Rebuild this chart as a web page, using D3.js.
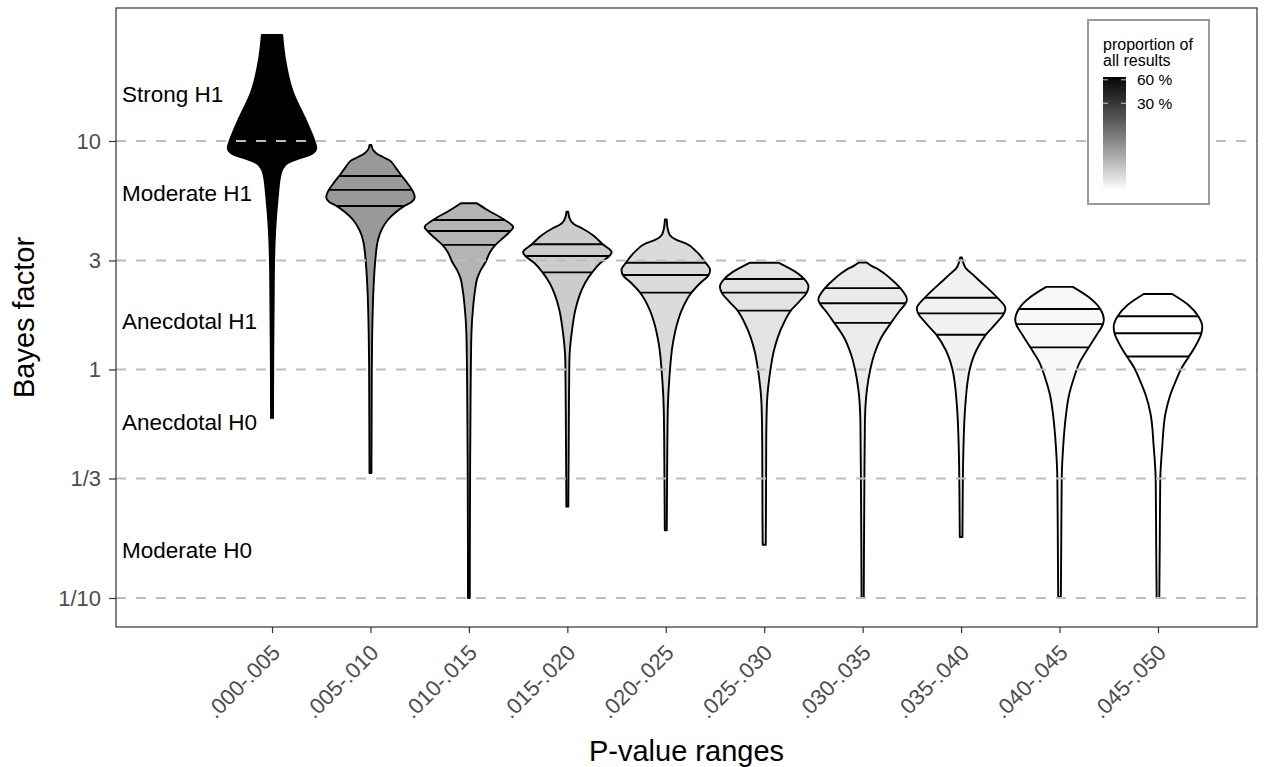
<!DOCTYPE html>
<html><head><meta charset="utf-8">
<script src="https://cdn.jsdelivr.net/npm/d3@7"></script>
<style>
body{margin:0;background:#fff}
svg{display:block}
text{font-family:"Liberation Sans",Arial,Helvetica,sans-serif}
</style>
</head><body>
<svg id="chart" width="1265" height="767"></svg>
<script>
// ---------------- data ----------------
const categories = [".000-.005", ".005-.010", ".010-.015", ".015-.020", ".020-.025",
                    ".025-.030", ".030-.035", ".035-.040", ".040-.045", ".045-.050"];
// proportion of all results (%) per p-value range
const proportions = [65.2, 7.9, 5.6, 4.2, 3.5, 3.2, 2.9, 2.7, 2.5, 2.3];
// 25/50/75 % quantiles of the Bayes factor per range
const quantiles = [
  [9.0, 11.5, 16.0],
  [5.19, 6.11, 7.03],
  [3.51, 4.04, 4.51],
  [2.66, 3.14, 3.53],
  [2.17, 2.59, 2.93],
  [1.81, 2.17, 2.49],
  [1.60, 1.95, 2.27],
  [1.42, 1.76, 2.06],
  [1.25, 1.58, 1.84],
  [1.14, 1.44, 1.71]
];
// violin density profiles: [Bayes factor, relative density (0..1)] from top to bottom
const densityProfiles = [
  [[29.1,.23],[23.07,.29],[16.39,.47],[12.61,.74],[11.17,.86],[10.10,.95],[9.32,1.0],[8.86,.93],[8.60,.80],[8.38,.60],[8.01,.36],[7.62,.25],[7.10,.19],[5.69,.13],[4.08,.072],[2.93,.046],[1.86,.036],[1.12,.027],[0.613,.022]],
  [[9.61,.02],[9.13,.06],[8.84,.13],[8.51,.28],[8.26,.42],[7.69,.56],[7.10,.69],[6.55,.83],[6.11,.94],[5.69,1.0],[5.41,.93],[5.19,.76],[4.84,.55],[4.51,.39],[4.08,.25],[3.69,.17],[3.01,.11],[2.23,.067],[1.77,.05],[0.965,.03],[0.352,.022]],
  [[5.34,.18],[4.99,.42],[4.51,.81],[4.19,1.0],[4.04,.94],[3.76,.77],[3.51,.60],[3.27,.48],[2.96,.38],[2.73,.27],[2.51,.19],[2.23,.14],[1.92,.10],[1.42,.056],[0.773,.038],[0.268,.025],[0.1,.02]],
  [[4.90,.02],[4.60,.05],[4.44,.09],[4.29,.18],[4.15,.33],[3.84,.60],[3.53,.80],[3.26,1.0],[3.14,.95],[2.93,.75],[2.66,.56],[2.39,.40],[2.12,.28],[1.82,.18],[1.51,.11],[1.08,.045],[0.555,.033],[0.251,.022]],
  [[4.54,.02],[4.16,.04],[3.88,.09],[3.69,.24],[3.57,.44],[3.27,.70],[2.93,.90],[2.73,1.0],[2.59,.97],[2.39,.78],[2.17,.58],[1.82,.36],[1.57,.25],[1.30,.16],[0.930,.083],[0.665,.045],[0.340,.03],[0.198,.022]],
  [[2.93,.33],[2.68,.70],[2.49,.90],[2.30,1.0],[2.17,.96],[1.99,.80],[1.81,.60],[1.61,.45],[1.39,.31],[1.19,.21],[0.995,.14],[0.711,.062],[0.477,.045],[0.243,.04],[0.171,.035]],
  [[2.94,.09],[2.84,.20],[2.73,.37],[2.51,.62],[2.27,.85],[2.02,1.0],[1.95,.97],[1.79,.82],[1.60,.64],[1.39,.43],[1.16,.26],[0.995,.17],[0.827,.10],[0.591,.051],[0.303,.038],[0.1,.025]],
  [[3.09,.02],[2.93,.05],[2.77,.11],[2.62,.25],[2.42,.44],[2.23,.64],[2.06,.82],[1.85,1.0],[1.76,.97],[1.60,.80],[1.42,.56],[1.22,.35],[1.01,.20],[0.699,.096],[0.422,.049],[0.302,.038],[0.185,.03]],
  [[2.30,.30],[2.08,.65],[1.84,.92],[1.65,1.0],[1.58,.98],[1.42,.84],[1.25,.66],[1.08,.46],[0.899,.31],[0.766,.21],[0.643,.15],[0.459,.082],[0.328,.049],[0.168,.038],[0.101,.03]],
  [[2.14,.32],[1.92,.68],[1.71,.91],[1.54,1.0],[1.44,.98],[1.28,.86],[1.14,.70],[1.02,.54],[0.899,.41],[0.766,.27],[0.643,.17],[0.459,.096],[0.328,.051],[0.168,.04],[0.1,.03]]
];
const yTickValues = [0.1, 1/3, 1, 3, 10];
const yTickLabels = ["1/10", "1/3", "1", "3", "10"];
const evidenceLabels = ["Strong H1", "Moderate H1", "Anecdotal H1", "Anecdotal H0", "Moderate H0"];
const evidenceLevels = [16, 5.9, 1.63, 0.59, 0.162];
const legendBreaks = [60, 30];
const legendBreakLabels = ["60 %", "30 %"];

// ---------------- layout ----------------
const svg = d3.select("#chart");
const panel = {left: 116, right: 1257, top: 8, bottom: 627};

const x = d3.scaleLinear().domain([-1.585, 10.006]).range([panel.left, panel.right]);
const y = d3.scaleLog().domain([Math.pow(10, -1.127), Math.pow(10, 1.582)]).range([panel.bottom, panel.top]);
const fill = d3.scaleSequentialLog(d3.interpolateLab("#ffffff", "#000000"))
  .domain([d3.min(proportions), d3.max(proportions)]);
const halfW = 0.45 * (x(1) - x(0));

svg.append("rect").attr("x", 0).attr("y", 0).attr("width", 1265).attr("height", 767).attr("fill", "#fff");

function relAt(profile, v) {
  const lv = Math.log10(v);
  for (let i = 0; i < profile.length - 1; i++) {
    const a = Math.log10(profile[i][0]), b = Math.log10(profile[i + 1][0]);
    if (lv <= a && lv >= b) {
      const t = (a - lv) / (a - b);
      return profile[i][1] + t * (profile[i + 1][1] - profile[i][1]);
    }
  }
  return 0;
}

const gV = svg.append("g");
categories.forEach((c, i) => {
  const cx = x(i);
  const prof = densityProfiles[i];
  const area = d3.area()
    .y(d => y(d[0]))
    .x0(d => cx - halfW * d[1])
    .x1(d => cx + halfW * d[1])
    .curve(d3.curveMonotoneY);
  gV.append("path").attr("d", area(prof))
    .attr("fill", fill(proportions[i]))
    .attr("stroke", "#000").attr("stroke-width", 1.9).attr("stroke-linejoin", "round");
  quantiles[i].forEach(q => {
    const r = relAt(prof, q);
    gV.append("line")
      .attr("x1", cx - halfW * r).attr("x2", cx + halfW * r)
      .attr("y1", y(q)).attr("y2", y(q))
      .attr("stroke", "#000").attr("stroke-width", 1.9);
  });
});

// dashed reference lines (drawn above the violins)
svg.append("g").selectAll("line").data(yTickValues).join("line")
  .attr("x1", panel.left).attr("x2", panel.right)
  .attr("y1", d => y(d)).attr("y2", d => y(d))
  .attr("stroke", "#bdbdbd").attr("stroke-width", 2).attr("stroke-dasharray", "10,10");

// evidence annotations
svg.append("g").selectAll("text").data(evidenceLabels).join("text")
  .attr("x", 122).attr("y", (d, i) => y(evidenceLevels[i]))
  .attr("dy", "0.36em")
  .attr("font-size", 22.5).attr("fill", "#000")
  .text(d => d);

// panel border
svg.append("rect").attr("x", panel.left).attr("y", panel.top)
  .attr("width", panel.right - panel.left).attr("height", panel.bottom - panel.top)
  .attr("fill", "none").attr("stroke", "#333").attr("stroke-width", 1.2);

// axes
const xAxis = svg.append("g").attr("transform", `translate(0,${panel.bottom})`)
  .call(d3.axisBottom(x).tickValues(d3.range(categories.length)).tickFormat(i => categories[i]).tickSize(6));
xAxis.select(".domain").remove();
xAxis.selectAll(".tick line").attr("stroke", "#333").attr("stroke-width", 1.2);
xAxis.selectAll(".tick text")
  .attr("x", 0).attr("y", 0).attr("dy", 0)
  .attr("text-anchor", "end")
  .attr("transform", "translate(9,27) rotate(-45)")
  .attr("font-size", 22).attr("fill", "#4d4d4d")
  .attr("font-family", "Liberation Sans, Arial, sans-serif");

const yAxis = svg.append("g").attr("transform", `translate(${panel.left},0)`)
  .call(d3.axisLeft(y).tickValues(yTickValues).tickFormat((d, i) => yTickLabels[i]).tickSize(7).tickPadding(8));
yAxis.select(".domain").remove();
yAxis.selectAll(".tick line").attr("stroke", "#333").attr("stroke-width", 1.2);
yAxis.selectAll(".tick text").attr("font-size", 22).attr("fill", "#4d4d4d")
  .attr("font-family", "Liberation Sans, Arial, sans-serif");

// axis titles
svg.append("text").attr("x", (panel.left + panel.right) / 2).attr("y", 761)
  .attr("text-anchor", "middle").attr("font-size", 29).attr("fill", "#000").text("P-value ranges");
svg.append("text").attr("transform", `translate(34,${(panel.top + panel.bottom) / 2}) rotate(-90)`)
  .attr("text-anchor", "middle").attr("font-size", 29).attr("fill", "#000").text("Bayes factor");

// legend
const lg = svg.append("g");
lg.append("rect").attr("x", 1088).attr("y", 20).attr("width", 121).attr("height", 184)
  .attr("fill", "#fff").attr("stroke", "#9a9a9a").attr("stroke-width", 2);
lg.append("text").attr("x", 1103).attr("y", 50).attr("font-size", 16).text("proportion of");
lg.append("text").attr("x", 1103).attr("y", 66).attr("font-size", 16).text("all results");
const ly = d3.scaleLog().domain(fill.domain()).range([190, 77]);
const grad = svg.append("defs").append("linearGradient").attr("id", "lgrad")
  .attr("x1", 0).attr("x2", 0).attr("y1", 1).attr("y2", 0);
d3.range(0, 1.0001, 0.05).forEach(t => {
  const v = ly.invert(190 - t * 113);
  grad.append("stop").attr("offset", t).attr("stop-color", fill(v));
});
lg.append("rect").attr("x", 1103).attr("y", 77).attr("width", 23).attr("height", 113).attr("fill", "url(#lgrad)");
legendBreaks.forEach((b, i) => {
  lg.append("line").attr("x1", 1103).attr("x2", 1108).attr("y1", ly(b)).attr("y2", ly(b)).attr("stroke", "#ccc").attr("stroke-width", 1);
  lg.append("line").attr("x1", 1121).attr("x2", 1126).attr("y1", ly(b)).attr("y2", ly(b)).attr("stroke", "#ccc").attr("stroke-width", 1);
  lg.append("text").attr("x", 1137).attr("y", ly(b)).attr("dy", "0.36em").attr("font-size", 15.5).text(legendBreakLabels[i]);
});
</script>
</body></html>
